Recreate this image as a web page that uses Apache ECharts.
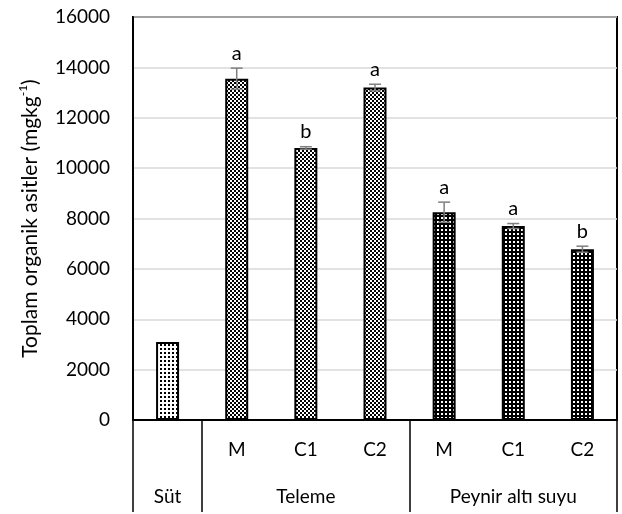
<!DOCTYPE html>
<html><head><meta charset="utf-8">
<script src="https://cdn.jsdelivr.net/npm/echarts@6/dist/echarts.min.js"></script>
<style>html,body{margin:0;padding:0;background:#fff}#c{width:622px;height:514px}</style>
</head><body><div id="c"></div>
<script>
const categories = ['Süt','M','C1','C2','M','C1','C2'];
const innerLabels = ['','M','C1','C2','M','C1','C2'];
const groupLabels = ['Süt','','Teleme','','','Peynir altı suyu',''];
const groupOf = [0,1,1,1,2,2,2];
const groupStarts = [0,1,4];
const values = [3100,13550,10800,13200,8250,7700,6780];
const errors = [0,420,50,130,400,100,120];
const letters = ['','a','b','a','a','a','b'];
const yMin = 0, yMax = 16000, yStep = 2000;

function makePattern(kind){
  const c = document.createElement('canvas');
  c.width = 4; c.height = 4;
  const g = c.getContext('2d');
  if (kind === 0) {
    g.fillStyle = '#fff'; g.fillRect(0,0,4,4);
    g.fillStyle = '#000'; g.fillRect(0,0,2,2);
  } else if (kind === 1) {
    g.fillStyle = '#fff'; g.fillRect(0,0,4,4);
    g.fillStyle = '#000'; g.fillRect(0,0,2,2); g.fillRect(2,2,2,2);
  } else {
    g.fillStyle = '#000'; g.fillRect(0,0,4,4);
    g.fillStyle = '#fff'; g.fillRect(1,1,2,2);
  }
  return {image: c, repeat: 'repeat'};
}
const patterns = [makePattern(0), makePattern(1), makePattern(2)];
const FONT = 'Lato';
const FS = 19;

const chart = echarts.init(document.getElementById('c'), null, {renderer:'canvas'});
chart.setOption({
  animation: false,
  textStyle: {fontFamily: FONT, color: '#000'},
  grid: {left: 133, right: 5, top: 17, bottom: 94, show: true, borderColor: '#000', borderWidth: 2, containLabel: false},
  xAxis: [{
    type: 'category', data: innerLabels, position: 'bottom',
    axisLine: {show: true, lineStyle: {color: '#000', width: 2}},
    axisTick: {show: false},
    axisLabel: {fontSize: FS, color: '#000', margin: 20, fontFamily: FONT, interval: 0}
  }, {
    type: 'category', data: groupLabels, position: 'bottom',
    axisLine: {show: false},
    axisTick: {show: true, length: 92, lineStyle: {color: '#000', width: 1.5},
      interval: function(i){ return groupStarts.indexOf(i) >= 0; }},
    axisLabel: {fontSize: FS, color: '#000', margin: 67, fontFamily: FONT, interval: 0}
  }],
  yAxis: {
    type: 'value', min: yMin, max: yMax, interval: yStep,
    axisLine: {show: true, lineStyle: {color: '#000', width: 2}},
    axisTick: {show: false},
    splitLine: {lineStyle: {color: '#d9d9d9', width: 1.5}},
    axisLabel: {fontSize: FS, color: '#000', margin: 23, fontFamily: FONT, formatter: v => String(v)},
    name: '{n|Toplam organik asitler (mgkg}{s|-1}{n|)}',
    nameLocation: 'middle', nameRotate: 90, nameGap: 90,
    nameTextStyle: {rich: {
      n: {fontSize: 21, fontFamily: FONT, color: '#000', lineHeight: 26},
      s: {fontSize: 12, fontFamily: FONT, color: '#000', lineHeight: 26, verticalAlign: 'top', padding: [0,0,12,0]}
    }}
  },
  series: [{
    type: 'bar', xAxisIndex: 0, barWidth: 23,
    data: values.map((v,i) => ({value: v, itemStyle: {color: patterns[groupOf[i]], borderColor: '#000', borderWidth: 2}}))
  }, {
    type: 'custom', xAxisIndex: 0, z: 5,
    data: values.map((v,i) => [i, v, errors[i], letters[i]]),
    renderItem: function(params, api){
      const i = api.value(0), v = api.value(1), e = api.value(2);
      const lt = letters[i];
      const top = api.coord([i, v + e]);
      const bot = api.coord([i, v - e]);
      const ch = [];
      const st = {stroke: '#7f7f7f', lineWidth: 1.5};
      if (e > 0) {
        ch.push({type:'line', shape:{x1: top[0], y1: top[1], x2: bot[0], y2: bot[1]}, style: st});
        ch.push({type:'line', shape:{x1: top[0]-6, y1: top[1], x2: top[0]+6, y2: top[1]}, style: st});
        ch.push({type:'line', shape:{x1: bot[0]-6, y1: bot[1], x2: bot[0]+6, y2: bot[1]}, style: st});
      }
      if (lt) {
        ch.push({type:'text', style:{text: lt, x: top[0], y: top[1] - 15, align: 'center', verticalAlign: 'middle', fontSize: 20, fontFamily: FONT, fill: '#000'}});
      }
      return {type: 'group', children: ch};
    }
  }]
});
</script></body></html>
